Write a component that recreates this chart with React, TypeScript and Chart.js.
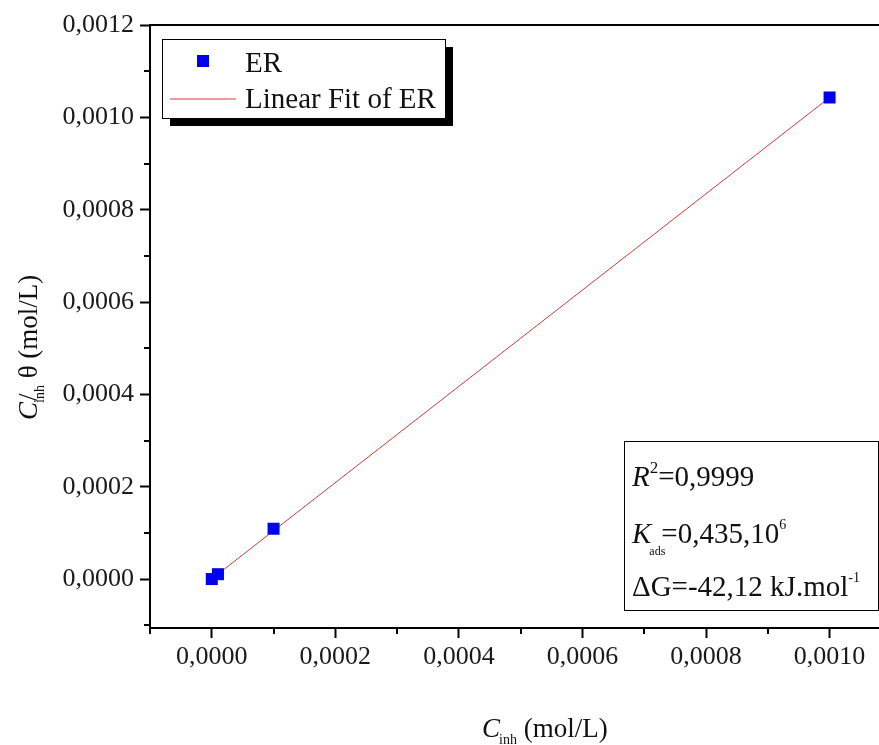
import React, { useEffect, useRef } from 'react';
import { Chart, registerables } from 'chart.js';

Chart.register(...registerables);

// ---- data ----
const erX = [0.0, 0.00001, 0.0001, 0.001];
const erY = [0.0, 0.0000105, 0.000109, 0.001043];
const fitX = [0.0, 0.001];
const fitY = [0.0000003, 0.001043];

const xMajorTicks = [0, 0.0002, 0.0004, 0.0006, 0.0008, 0.001];
const xMinorTicks = [-0.0001, 0.0001, 0.0003, 0.0005, 0.0007, 0.0009];
const yMajorTicks = [0, 0.0002, 0.0004, 0.0006, 0.0008, 0.001, 0.0012];
const yMinorTicks = [-0.0001, 0.0001, 0.0003, 0.0005, 0.0007, 0.0009, 0.0011];

const seriesLabels = ['ER', 'Linear Fit of ER'];

const FONT = '"Liberation Serif", "Times New Roman", Times, serif';
const fmt = (v: number) => Number(v).toFixed(4).replace('.', ',');

function drawAxisTitle(ctx: CanvasRenderingContext2D, x: number, y: number, withTheta: boolean) {
  ctx.textAlign = 'left';
  ctx.textBaseline = 'alphabetic';
  ctx.fillStyle = '#111';
  ctx.font = `italic 27px ${FONT}`;
  ctx.fillText('C', x, y);
  const cw = ctx.measureText('C').width;
  ctx.font = `14px ${FONT}`;
  ctx.fillText('inh', x + cw - 1, y + 7);
  const sw = ctx.measureText('inh').width;
  ctx.font = `27px ${FONT}`;
  const cx = x + cw - 1 + sw;
  if (withTheta) {
    ctx.fillText('/', x + cw + 1, y);
    ctx.fillText(' θ (mol/L)', cx, y);
  } else {
    ctx.fillText(' (mol/L)', cx, y);
  }
}

const decorPlugin = {
  id: 'decor',
  afterDraw(chart: any) {
    const ctx: CanvasRenderingContext2D = chart.ctx;
    const { left, right, top, bottom } = chart.chartArea;
    const xs = chart.scales.x;
    const ys = chart.scales.y;
    ctx.save();
    // top frame line
    ctx.strokeStyle = '#000';
    ctx.lineWidth = 2;
    ctx.beginPath();
    ctx.moveTo(left - 1, top);
    ctx.lineTo(right, top);
    ctx.stroke();
    // minor ticks
    ctx.beginPath();
    xMinorTicks.forEach((v) => {
      const px = Math.round(xs.getPixelForValue(v));
      ctx.moveTo(px, bottom);
      ctx.lineTo(px, bottom + 6);
    });
    yMinorTicks.forEach((v) => {
      const py = Math.round(ys.getPixelForValue(v));
      ctx.moveTo(left, py);
      ctx.lineTo(left - 6, py);
    });
    ctx.stroke();

    // legend with shadow
    const lx = 162, ly = 39, lw = 283, lh = 79;
    ctx.fillStyle = '#000';
    ctx.fillRect(lx + 8, ly + 8, lw, lh);
    ctx.fillStyle = '#fff';
    ctx.fillRect(lx, ly, lw, lh);
    ctx.lineWidth = 1;
    ctx.strokeStyle = '#000';
    ctx.strokeRect(lx + 0.5, ly + 0.5, lw, lh);
    const ds0 = chart.data.datasets[0];
    const ds1 = chart.data.datasets[1];
    ctx.fillStyle = ds0.backgroundColor;
    ctx.fillRect(197, 55, 12, 12);
    ctx.strokeStyle = ds1.borderColor;
    ctx.lineWidth = 1;
    ctx.beginPath();
    ctx.moveTo(170, 99);
    ctx.lineTo(236, 99);
    ctx.stroke();
    ctx.fillStyle = '#111';
    ctx.font = `29px ${FONT}`;
    ctx.textAlign = 'left';
    ctx.textBaseline = 'alphabetic';
    ctx.fillText(seriesLabels[0], 245, 72);
    ctx.fillText(seriesLabels[1], 245, 108);

    // annotation box
    ctx.fillStyle = '#fff';
    ctx.fillRect(624, 441, 254, 169);
    ctx.strokeStyle = '#000';
    ctx.lineWidth = 1;
    ctx.strokeRect(624.5, 441.5, 254, 169);
    ctx.fillStyle = '#111';
    const x0 = 632;
    // line 1: R^2=0,9999
    ctx.font = `italic 29px ${FONT}`;
    ctx.fillText('R', x0, 486);
    let w = ctx.measureText('R').width;
    ctx.font = `17px ${FONT}`;
    ctx.fillText('2', x0 + w, 473);
    let w2 = ctx.measureText('2').width;
    ctx.font = `29px ${FONT}`;
    ctx.fillText('=0,9999', x0 + w + w2, 486);
    // line 2: K_ads=0,435,10^6
    ctx.font = `italic 29px ${FONT}`;
    ctx.fillText('K', x0, 543);
    w = ctx.measureText('K').width;
    ctx.font = `12px ${FONT}`;
    ctx.fillText('ads', x0 + w - 2, 555);
    w2 = ctx.measureText('ads').width;
    ctx.font = `29px ${FONT}`;
    const t2 = '=0,435,10';
    const x2 = x0 + w + w2 - 6;
    ctx.fillText(t2, x2, 543);
    const w3 = ctx.measureText(t2).width;
    ctx.font = `14px ${FONT}`;
    ctx.fillText('6', x2 + w3, 529);
    // line 3
    ctx.font = `29px ${FONT}`;
    const t3 = 'ΔG=-42,12 kJ.mol';
    ctx.fillText(t3, x0, 596);
    const w4 = ctx.measureText(t3).width;
    ctx.font = `14px ${FONT}`;
    ctx.fillText('-1', x0 + w4, 582);

    // axis titles
    drawAxisTitle(ctx, 482, 737, false);
    ctx.save();
    ctx.translate(37, 420);
    ctx.rotate(-Math.PI / 2);
    drawAxisTitle(ctx, 0, 0, true);
    ctx.restore();

    ctx.restore();
  },
};

export default function App() {
  const ref = useRef<HTMLCanvasElement | null>(null);
  useEffect(() => {
    if (!ref.current) return;
    const chart = new Chart(ref.current, {
      type: 'scatter',
      data: {
        datasets: [
          {
            label: seriesLabels[0],
            data: erX.map((x, i) => ({ x, y: erY[i] })),
            backgroundColor: '#0000f0',
            borderColor: '#0000f0',
            pointStyle: 'rect',
            pointRadius: 8.5,
            pointBorderWidth: 0,
            showLine: false,
          },
          {
            label: seriesLabels[1],
            data: fitX.map((x, i) => ({ x, y: fitY[i] })),
            borderColor: '#d23a3a',
            backgroundColor: '#d23a3a',
            borderWidth: 1,
            pointRadius: 0,
            showLine: true,
          },
        ],
      },
      options: {
        animation: false,
        responsive: false,
        layout: { autoPadding: false, padding: { top: 25, left: 0, right: 0, bottom: 0 } },
        plugins: { legend: { display: false }, tooltip: { enabled: false } },
        scales: {
          x: {
            type: 'linear',
            min: -0.0001,
            max: 0.00108,
            afterBuildTicks: (s: any) => {
              s.ticks = xMajorTicks.map((v) => ({ value: v }));
            },
            afterFit: (s: any) => {
              s.height = 117;
              s.paddingLeft = 0;
              s.paddingRight = 0;
            },
            border: { display: true, color: '#000', width: 2 },
            grid: { drawOnChartArea: false, drawTicks: true, tickLength: 10, tickColor: '#000', tickWidth: 2 },
            ticks: {
              autoSkip: false,
              maxRotation: 0,
              padding: 4,
              color: '#1a1a1a',
              font: { family: FONT, size: 26 },
              callback: (v: any) => fmt(v),
            },
          },
          y: {
            type: 'linear',
            min: -0.000106,
            max: 0.0012,
            afterBuildTicks: (s: any) => {
              s.ticks = yMajorTicks.map((v) => ({ value: v }));
            },
            afterFit: (s: any) => {
              s.width = 150;
              s.paddingTop = 0;
              s.paddingBottom = 0;
            },
            border: { display: true, color: '#000', width: 2 },
            grid: { drawOnChartArea: false, drawTicks: true, tickLength: 10, tickColor: '#000', tickWidth: 2 },
            ticks: {
              autoSkip: false,
              padding: 6,
              color: '#1a1a1a',
              font: { family: FONT, size: 26 },
              callback: (v: any) => fmt(v),
            },
          },
        },
      },
      plugins: [decorPlugin],
    });
    return () => chart.destroy();
  }, []);
  return (
    <div style={{ position: 'absolute', left: 0, top: 0, width: 879, height: 745, background: '#fff' }}>
      <canvas ref={ref} width={879} height={745} style={{ display: 'block' }} />
    </div>
  );
}
